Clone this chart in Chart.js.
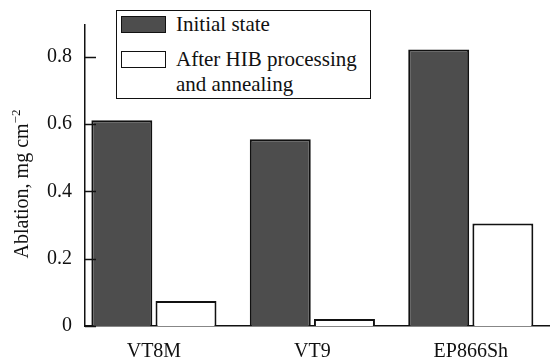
<!DOCTYPE html>
<html>
<head>
<meta charset="utf-8">
<script src="https://cdn.jsdelivr.net/npm/chart.js@4"></script>
<style>
  body { margin: 0; background: #fff; }
  #wrap { position: relative; width: 550px; height: 363px; font-family: "Liberation Serif", "Times New Roman", Tinos, "DejaVu Serif", "Noto Serif", serif; color: #111; }
  #legend { position: absolute; left: 116px; top: 10px; width: 253px; height: 87px; border: 1.5px solid #111; background: #fff; font-size: 21px; }
  .item { position: absolute; left: 4px; display: flex; align-items: flex-start; }
  .swatch { width: 43px; height: 15px; border: 1.5px solid #111; margin-right: 10px; flex: none; }
  .label { line-height: 25px; white-space: pre-line; margin-top: -4px; }
  #ytitle { position: absolute; left: -79px; top: 172px; width: 200px; height: 24px; line-height: 24px; text-align: center; font-size: 20px; transform: rotate(-90deg); white-space: nowrap; }
  #ytitle sup { font-size: 13px; vertical-align: 8px; line-height: 0; }
</style>
</head>
<body>
<div id="wrap">
  <canvas id="chart" width="550" height="363"></canvas>
  <div id="legend"></div>
  <div id="ytitle">Ablation, mg cm<sup>−2</sup></div>
</div>
<script>
// -----------------------------
// Data
// -----------------------------
const materials = ["VT8M", "VT9", "EP866Sh"];
const seriesNames = ["Initial state", "After HIB processing\nand annealing"];
const initialState = [0.612, 0.555, 0.822];
const afterHib = [0.074, 0.021, 0.305];
const yTicks = [0, 0.2, 0.4, 0.6, 0.8];

const fills = ["#4d4d4d", "#ffffff"];
const serif = '"Liberation Serif", "Times New Roman", Tinos, "DejaVu Serif", "Noto Serif", serif';

// -----------------------------
// Inner tick marks on the y axis
// -----------------------------
const innerTicks = {
  id: "innerTicks",
  afterDatasetsDraw(chart) {
    const y = chart.scales.y;
    const ctx = chart.ctx;
    const left = chart.chartArea.left;
    ctx.save();
    ctx.strokeStyle = "#111";
    ctx.lineWidth = 1.5;
    y.ticks.forEach(t => {
      const py = Math.round(y.getPixelForValue(t.value)) + 0.5;
      ctx.beginPath();
      ctx.moveTo(left, py);
      ctx.lineTo(left + 11, py);
      ctx.stroke();
    });
    ctx.restore();
  }
};

const toPoints = arr => arr.map((v, i) => ({ x: i, y: v }));

const chart = new Chart(document.getElementById("chart").getContext("2d"), {
  type: "bar",
  data: {
    datasets: [
      {
        label: seriesNames[0],
        data: toPoints(initialState),
        backgroundColor: fills[0],
        borderColor: "#111",
        borderWidth: 2
      },
      {
        label: seriesNames[1],
        data: toPoints(afterHib),
        backgroundColor: fills[1],
        borderColor: "#111",
        borderWidth: 2
      }
    ]
  },
  options: {
    responsive: false,
    animation: false,
    layout: { padding: { top: 10, right: 0, left: 0, bottom: 0 } },
    plugins: {
      legend: { display: false },
      tooltip: { enabled: false }
    },
    datasets: {
      bar: { categoryPercentage: 0.81, barPercentage: 0.95 }
    },
    scales: {
      x: {
        type: "linear",
        offset: false,
        min: -0.435,
        max: 2.5,
        afterBuildTicks: s => { s.ticks = materials.map((m, i) => ({ value: i })); },
        afterFit: s => { s.height = 37; },
        grid: { display: false, drawTicks: false, offset: false },
        border: { display: true, color: "#111", width: 1.5 },
        ticks: {
          callback: v => materials[v] ?? "",
          color: "#111",
          padding: 14,
          maxRotation: 0,
          autoSkip: false,
          font: { family: serif, size: 20 }
        }
      },
      y: {
        min: 0,
        max: 0.895,
        afterBuildTicks: s => { s.ticks = yTicks.map(v => ({ value: v })); },
        afterFit: s => { s.width = 85; },
        grid: { display: false, drawTicks: false },
        border: { display: true, color: "#111", width: 1.5 },
        ticks: {
          callback: v => v === 0 ? "0" : v.toFixed(1),
          color: "#111",
          padding: 13,
          font: { family: serif, size: 20 }
        }
      }
    }
  },
  plugins: [innerTicks]
});

// -----------------------------
// Legend (html, built from datasets)
// -----------------------------
const legend = document.getElementById("legend");
const rowTops = [5, 40];
chart.data.datasets.forEach((ds, i) => {
  const item = document.createElement("div");
  item.className = "item";
  item.style.top = rowTops[i] + "px";
  item.innerHTML = `<div class="swatch" style="background:${ds.backgroundColor}"></div><div class="label"></div>`;
  item.querySelector(".label").textContent = ds.label;
  legend.appendChild(item);
});
</script>
</body>
</html>
